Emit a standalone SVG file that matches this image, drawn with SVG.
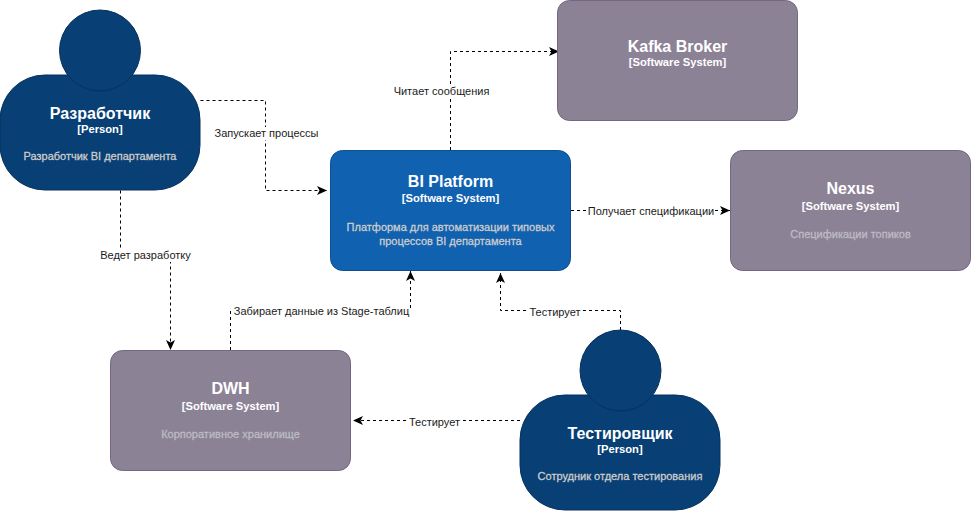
<svg xmlns="http://www.w3.org/2000/svg" width="971" height="511" viewBox="0 0 971 511">
<style>
text{font-family:"Liberation Sans",Arial,sans-serif;text-anchor:middle}
.t{font-size:16px;font-weight:bold;fill:#fff}
.s{font-size:11.200px;font-weight:bold;fill:#fff}
.d{font-size:11px;fill:#ccc;stroke:#ccc;stroke-width:.3px}
.dg{fill:#bdbbc2;stroke:#bdbbc2}
.l{font-size:11px;fill:#1a1a1a}
.lb{fill:#fff}
.p{fill:#083f75;stroke:#06315c}
.b{fill:#1061b0;stroke:#0d5091}
.g{fill:#8c8296;stroke:#736782}
.c{fill:none;stroke:#000;stroke-width:1;stroke-dasharray:3 3}
</style>
<defs><marker id="a" markerWidth="11" markerHeight="10" refX="10" refY="5" orient="auto" markerUnits="userSpaceOnUse"><path d="M0 .5L10 5L0 9.500L2.500 5Z" fill="#000"/></marker></defs>
<g id="connectors">
<path class="c" marker-end="url(#a)" d="M200.500 100.500H265.500V190.500H327"/>
<path class="c" marker-end="url(#a)" d="M120.500 190.500V255.500H170.500V350"/>
<path class="c" marker-end="url(#a)" d="M450.500 150V51.500H559"/>
<path class="c" marker-end="url(#a)" d="M571 210.500H730"/>
<path class="c" marker-end="url(#a)" d="M230.500 350V310.500H410.500V271"/>
<path class="c" marker-end="url(#a)" d="M620.500 330V310.500H500.500V273"/>
<path class="c" marker-end="url(#a)" d="M520 420.500H353"/>
</g>
<g id="labels">
<rect class="lb" x="214" y="127" width="106" height="13"/><text class="l" x="266.500" y="137">Запускает процессы</text>
<rect class="lb" x="100" y="249" width="91" height="13"/><text class="l" x="145.500" y="259">Ведет разработку</text>
<rect class="lb" x="393" y="85" width="97" height="13"/><text class="l" x="441.500" y="95">Читает сообщения</text>
<rect class="lb" x="587" y="205" width="128" height="13"/><text class="l" x="651" y="215">Получает спецификации</text>
<rect class="lb" x="233" y="305" width="177" height="13"/><text class="l" x="321.500" y="315">Забирает данные из Stage-таблиц</text>
<rect class="lb" x="529" y="306" width="52" height="13"/><text class="l" x="555" y="316">Тестирует</text>
<rect class="lb" x="408" y="416" width="53" height="13"/><text class="l" x="434.500" y="426">Тестирует</text>
</g>
<g id="dev">
<rect class="p" x="0" y="75" width="200" height="115" rx="45"/>
<circle class="p" cx="100" cy="50.500" r="40.500"/>
<text class="t" x="100" y="119">Разработчик</text><text class="s" x="100" y="133">[Person]</text><text class="d" x="100" y="160">Разработчик BI департамента</text>
</g>
<g id="kafka">
<rect class="g" x="557.500" y="0.500" width="240" height="120" rx="12"/>
<text class="t" x="677.500" y="52">Kafka Broker</text><text class="s" x="677.500" y="66">[Software System]</text>
</g>
<g id="bi">
<rect class="b" x="330.500" y="150.500" width="240" height="120" rx="12"/>
<text class="t" x="450.500" y="187">BI Platform</text><text class="s" x="450.500" y="202">[Software System]</text><text class="d" x="450.500" y="231">Платформа для автоматизации типовых</text><text class="d" x="450.500" y="245">процессов BI департамента</text>
</g>
<g id="nexus">
<rect class="g" x="730.500" y="150.500" width="240" height="120" rx="12"/>
<text class="t" x="850.500" y="194">Nexus</text><text class="s" x="850.500" y="210">[Software System]</text><text class="d dg" x="850.500" y="238">Спецификации топиков</text>
</g>
<g id="dwh">
<rect class="g" x="110.500" y="350.500" width="240" height="120" rx="12"/>
<text class="t" x="230.500" y="394">DWH</text><text class="s" x="230.500" y="410">[Software System]</text><text class="d dg" x="230.500" y="438">Корпоративное хранилище</text>
</g>
<g id="tester">
<rect class="p" x="520" y="395" width="200" height="115" rx="45"/>
<circle class="p" cx="620.500" cy="370.500" r="40.500"/>
<text class="t" x="620" y="439">Тестировщик</text><text class="s" x="620" y="453">[Person]</text><text class="d" x="620" y="480">Сотрудник отдела тестирования</text>
</g>
</svg>
